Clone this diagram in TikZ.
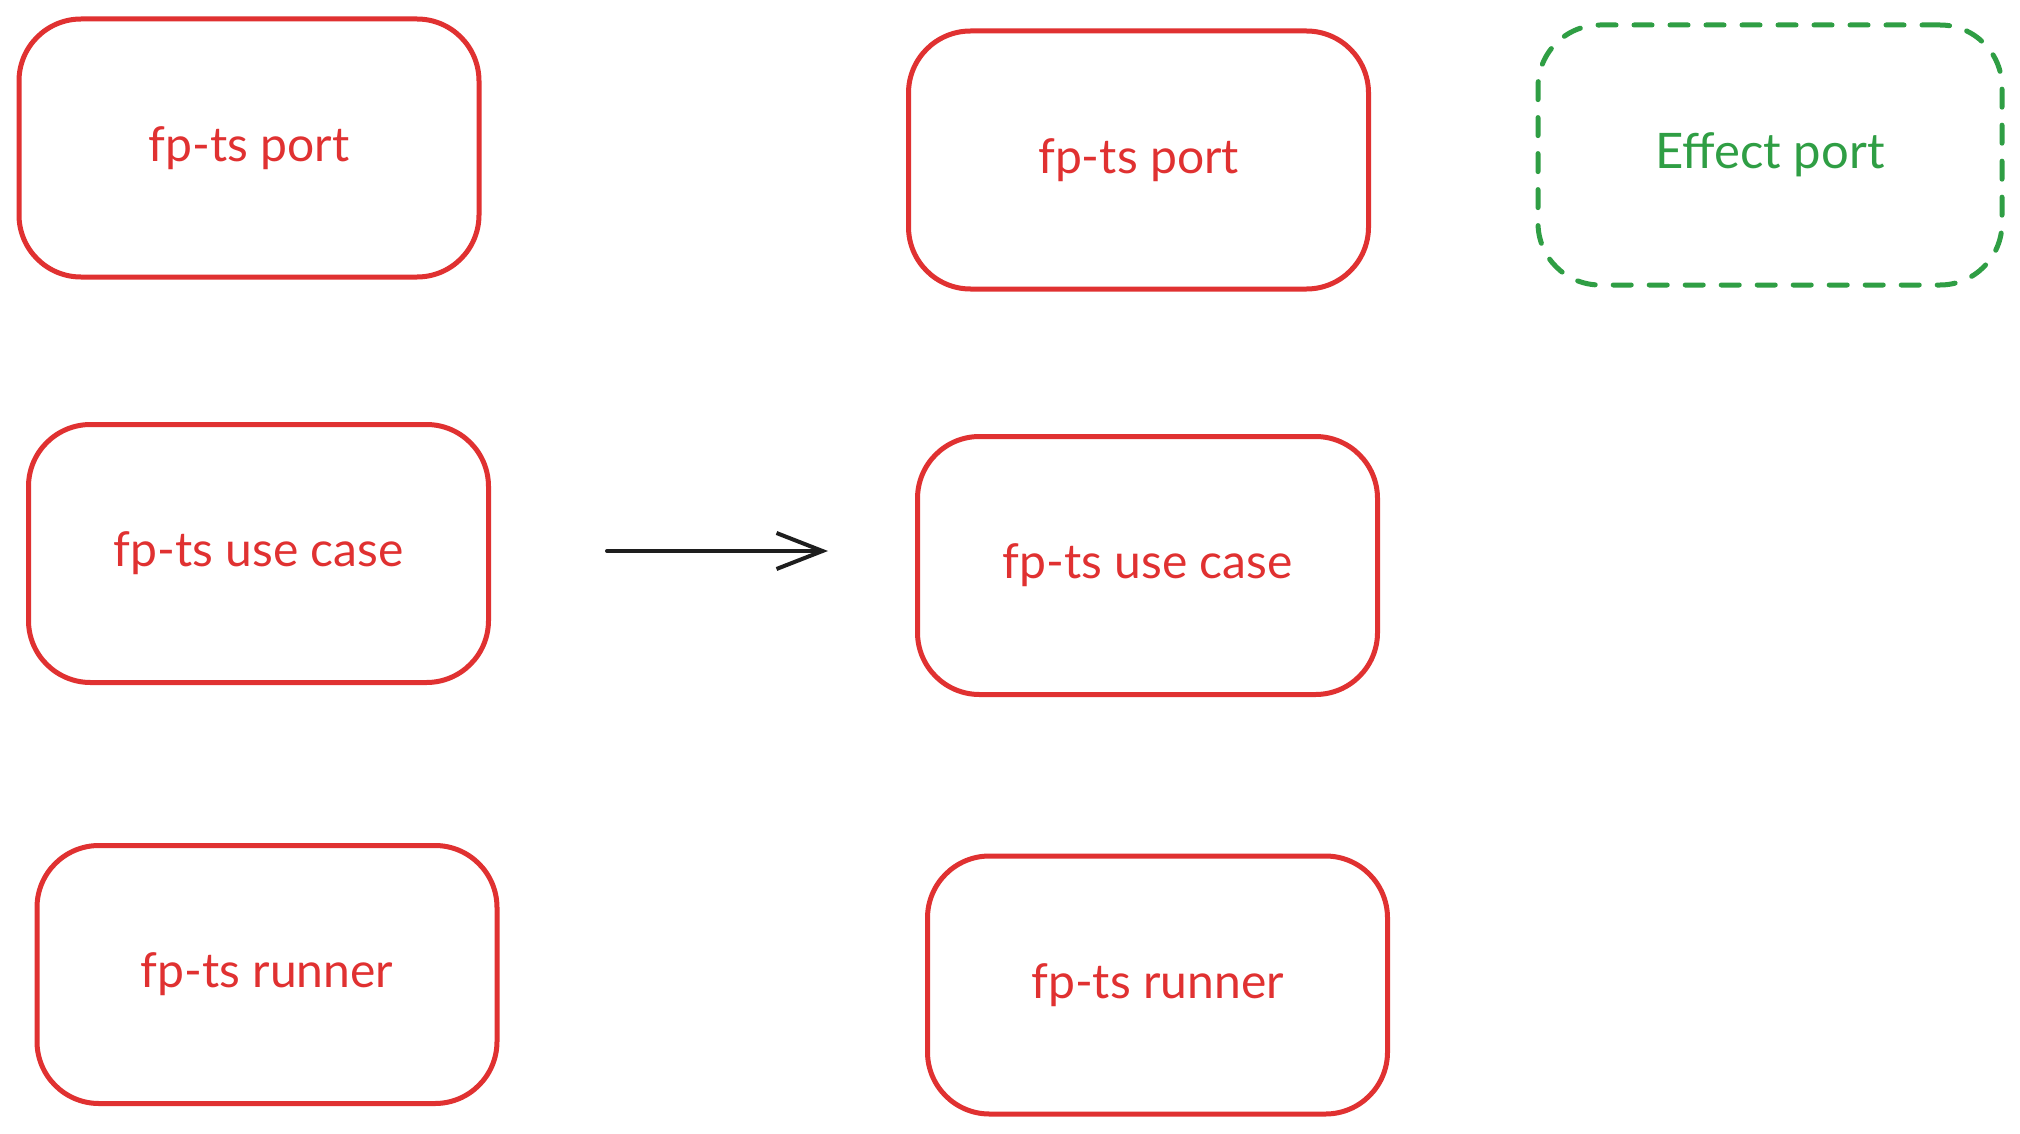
\documentclass[tikz,border=0pt]{standalone}
\usepackage{fontspec}
\setmainfont{Lato}
\usetikzlibrary{arrows.meta}
\definecolor{exred}{HTML}{E03131}
\definecolor{exgreen}{HTML}{2F9E44}
\definecolor{exblack}{HTML}{1E1E1E}
\tikzset{
  redbox/.style={draw=exred, line width=5pt, rounded corners=62pt, minimum width=460pt, minimum height=258pt, text=exred, font=\fontsize{48}{56}\selectfont, inner sep=0pt},
  greenbox/.style={draw=exgreen, line width=5pt, rounded corners=62pt, minimum width=464pt, minimum height=260pt, text=exgreen, font=\fontsize{49}{56}\selectfont, inner sep=0pt, dash pattern=on 18pt off 18pt, line cap=round},
  flowarrow/.style={draw=exblack, line width=4pt, line cap=round, -{Straight Barb[length=46pt, width=36pt, line width=4pt]}}
}
\begin{document}
\begin{tikzpicture}[x=1pt,y=-1pt]
\useasboundingbox[fill=white] (0,0) rectangle (2020,1134);
\node[redbox] (a) at (249,148) {fp-ts port};
\node[redbox] (b) at (258.5,553.5) {fp-ts use case};
\node[redbox] (c) at (267,974.5) {fp-ts runner};
\node[redbox] (d) at (1138.5,160) {fp-ts port};
\node[redbox] (e) at (1147.5,565.5) {fp-ts use case};
\node[redbox] (f) at (1157.5,985) {fp-ts runner};
\node[greenbox] (g) at (1770,155) {Effect port};
\coordinate (s) at (607,551);
\coordinate (t) at (828,551);
\draw[flowarrow] (s) -- (t);
\end{tikzpicture}
\end{document}
